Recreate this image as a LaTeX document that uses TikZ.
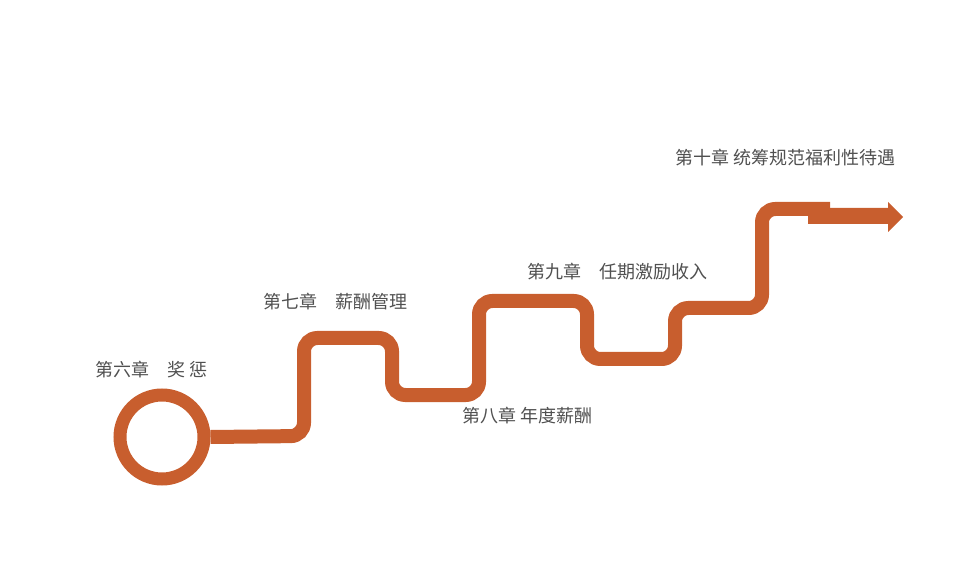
\documentclass[tikz,border=0pt]{standalone}
\usepackage{fontspec}
\setmainfont{Noto Sans CJK SC}
\begin{document}
\begin{tikzpicture}[x=0.75pt,y=-0.75pt,
  road/.style={draw=orange!60!red!70!brown, color={rgb,255:red,200;green,94;blue,46}, line width=10.5pt, rounded corners=10pt},
  lbl/.style={anchor=west, text={rgb,255:red,80;green,80;blue,80}, font=\fontsize{13.5pt}{15pt}\selectfont, inner sep=0pt}]
\definecolor{rd}{RGB}{200,94,46}
\useasboundingbox (0,0) rectangle (957,577);
\node[circle, draw=rd, line width=9.75pt, minimum size=63pt, inner sep=0pt] (c) at (162,437) {};
\coordinate (e) at (830,209);
\draw[rd, line width=10.5pt, rounded corners=10pt] (c.east) -- (304,436) -- (304,338) -- (392,338) -- (392,395) -- (479,395) -- (479,301) -- (587,301) -- (587,359) -- (675,359) -- (675,308) -- (762,308) -- (762,209) -- (e);
\coordinate (a0) at (808,216);
\coordinate (a1) at (888,216);
\coordinate (a2) at (903,216);
\fill[rd] (808,208) -- (888,208) -- (888,202) -- (903,217) -- (888,232) -- (888,224) -- (808,224) -- cycle;
\node[lbl] (l6) at (95,370) {第六章　奖 惩};
\node[lbl] (l7) at (263,302) {第七章　薪酬管理};
\node[lbl] (l8) at (462,416) {第八章 年度薪酬};
\node[lbl] (l9) at (527,272) {第九章　任期激励收入};
\node[lbl] (l10) at (675,158) {第十章 统筹规范福利性待遇};
\end{tikzpicture}
\end{document}
